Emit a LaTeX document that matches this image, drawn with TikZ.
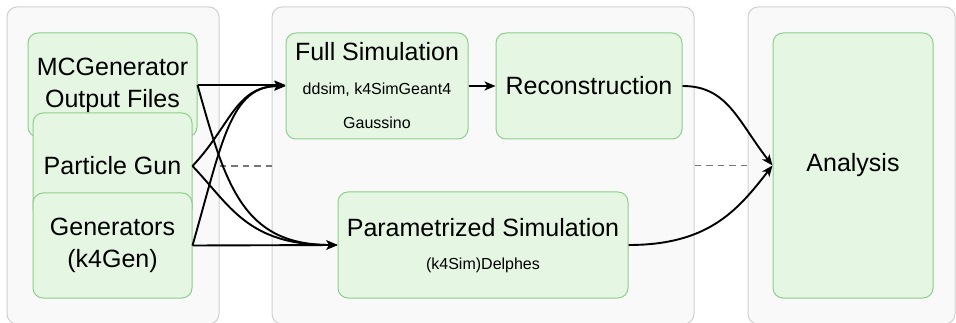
\documentclass[tikz,border=0pt]{standalone}
\usepackage{fontspec}
\setmainfont{Liberation Sans}
\usetikzlibrary{arrows.meta}
\definecolor{contfill}{RGB}{249,249,249}
\definecolor{contdraw}{RGB}{208,208,208}
\definecolor{gfill}{RGB}{229,247,227}
\definecolor{gdraw}{RGB}{140,206,138}
\definecolor{dashgray}{RGB}{118,118,118}
\tikzset{
  container/.style={draw=contdraw, fill=contfill, line width=1pt, rounded corners=10pt, inner sep=0pt},
  gbox/.style={draw=gdraw, fill=gfill, line width=1pt, rounded corners=10pt, inner sep=0pt, align=center,
    font=\fontsize{25}{32}\selectfont},
  bigtxt/.style={inner sep=0pt, font=\fontsize{25}{30}\selectfont},
  smalltxt/.style={inner sep=0pt, font=\fontsize{16}{19}\selectfont},
  conn/.style={line width=1.9pt, -{Stealth[length=11pt,width=9pt,inset=3pt]}},
  dashconn/.style={draw=dashgray, line width=1.7pt, dash pattern=on 6.5pt off 5pt}
}
\begin{document}
\begin{tikzpicture}[x=1pt,y=-1pt]
\useasboundingbox (0,0) rectangle (956,323);
\clip (0,0) rectangle (956,323);
% containers
\node[container, minimum width=212pt, minimum height=317pt] (cleft) at (113,165.5) {};
\node[container, minimum width=422pt, minimum height=317pt] (cmid) at (483,165.5) {};
\node[container, minimum width=207pt, minimum height=317pt] (cright) at (851.5,165.5) {};
% left boxes
\node[gbox, minimum width=169pt, minimum height=104pt] (mcg) at (112.5,85) {MCGenerator\\Output Files};
\node[gbox, minimum width=159pt, minimum height=106pt] (pg) at (112.5,166) {Particle Gun};
\node[gbox, minimum width=159pt, minimum height=105pt] (gen) at (112.5,245.5) {Generators\\(k4Gen)};
% middle boxes
\node[gbox, minimum width=182pt, minimum height=106pt] (full) at (377,86) {};
\node[bigtxt] (fullT) at (377,52) {Full Simulation};
\node[smalltxt] (fullA) at (377,90) {ddsim, k4SimGeant4};
\node[smalltxt] (fullB) at (377,123) {Gaussino};
\node[gbox, minimum width=186pt, minimum height=106pt] (reco) at (589,86) {Reconstruction};
\node[gbox, minimum width=290pt, minimum height=106pt] (param) at (483,245) {};
\node[bigtxt] (paramT) at (483,228) {Parametrized Simulation};
\node[smalltxt] (paramA) at (483,265) {(k4Sim)Delphes};
% right box
\node[gbox, minimum width=160pt, minimum height=265pt] (ana) at (853,165.5) {Analysis};
% dashed links between containers
\draw[dashconn] (cleft.east |- pg.east) -- (cmid.west |- pg.east);
\draw[dashconn] (cmid.east |- ana.west) -- (cright.west |- ana.west);
% connectors
\draw[conn] (mcg.east) -- (mcg.east -| full.west);
\draw[conn] (mcg.east) .. controls +(28,100) and +(-95,0) .. (param.west);
\draw[conn] (pg.east) .. controls +(38,-40) and +(-50,0) .. (full.west);
\draw[conn] (pg.east) .. controls +(38,40) and +(-90,0) .. (param.west);
\draw[conn] (gen.east) .. controls +(30,-105) and +(-55,0) .. (full.west);
\draw[conn] (gen.east) -- (param.west);
\draw[conn] (full.east) -- (reco.west);
\draw[conn] (reco.east) .. controls +(45,0) and +(-35,-45) .. (ana.west);
\draw[conn] (param.east) .. controls +(80,0) and +(-35,45) .. (ana.west);
\end{tikzpicture}
\end{document}
